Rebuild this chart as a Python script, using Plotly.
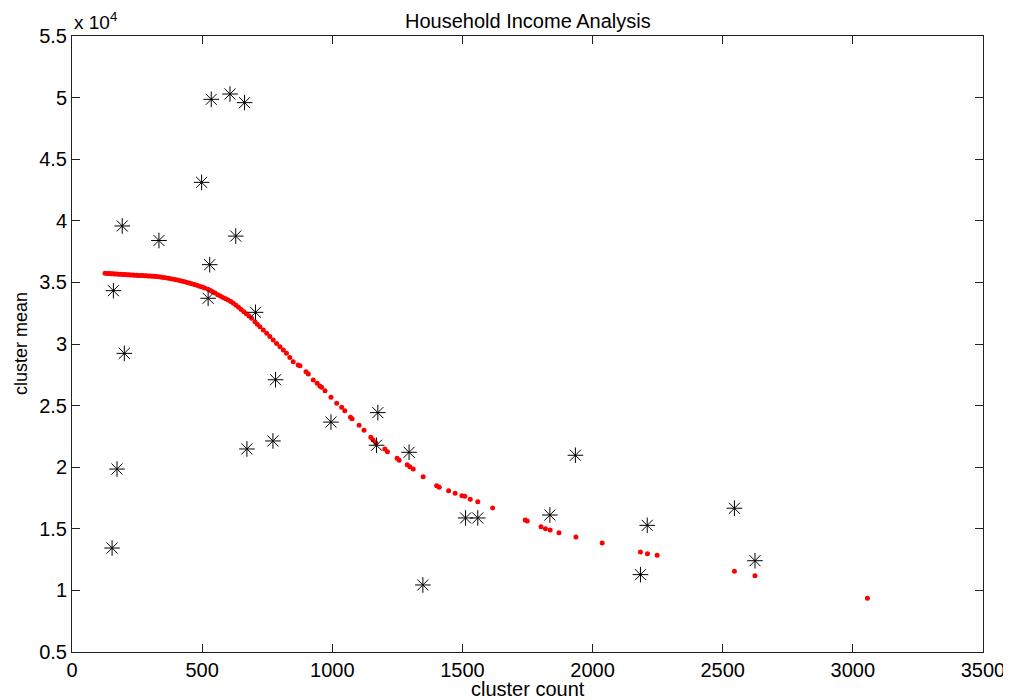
import plotly.graph_objects as go

# Black asterisk points: cluster count vs cluster mean
star_count = [535, 607, 663, 498, 193, 334, 629, 529, 159, 523, 705, 201, 782,
              672, 772, 173, 154, 995, 1175, 1170, 1295, 1512, 1559, 1348,
              1836, 1934, 2184, 2210, 2545, 2624]
star_mean = [49860, 50290, 49590, 43120, 39580, 38400, 38760, 36440, 34330,
             33710, 32570, 29240, 27100, 21480, 22130, 19850, 13440, 23660,
             24430, 21780, 21210, 15880, 15880, 10440, 16120, 20970, 11280,
             15280, 16670, 12410]

# Red fitted points
fit_count = [127, 135, 143, 150, 158, 165, 173, 180, 188, 195, 203, 210, 218,
             225, 233, 240, 248, 255, 263, 270, 278, 285, 293, 300, 308, 315,
             323, 331, 340, 350, 360, 370, 380, 390, 400, 410, 420, 430, 440,
             450, 460, 470, 480, 490, 500, 510, 523, 532, 540, 550, 560, 570,
             580, 590, 600, 610, 620, 630, 640, 650, 660, 670, 680, 690, 703,
             712, 722, 735, 748, 760, 773, 786, 799, 812, 824, 837, 850, 869,
             876, 899, 908, 927, 942, 952, 959, 972, 995, 1017, 1036, 1048,
             1070, 1076, 1103, 1122, 1148, 1157, 1167, 1202, 1212, 1249, 1257,
             1288, 1298, 1311, 1349, 1401, 1411, 1447, 1472, 1498, 1509, 1530,
             1559, 1616, 1741, 1749, 1802, 1819, 1837, 1871, 1936, 2037, 2184,
             2211, 2248, 2545, 2624, 3056]
fit_mean = [35740, 35730, 35720, 35710, 35700, 35690, 35680, 35670, 35660,
            35650, 35640, 35630, 35620, 35610, 35600, 35590, 35580, 35570,
            35560, 35550, 35540, 35530, 35520, 35510, 35500, 35490, 35475,
            35460, 35430, 35400, 35370, 35330, 35300, 35260, 35220, 35170,
            35120, 35070, 35020, 34960, 34900, 34830, 34760, 34690, 34620,
            34550, 34440, 34340, 34250, 34130, 34000, 33890, 33780, 33680,
            33570, 33440, 33300, 33140, 32980, 32800, 32620, 32450, 32280,
            32100, 31810, 31610, 31400, 31130, 30870, 30600, 30320, 30050,
            29780, 29510, 29240, 28900, 28560, 28300, 28240, 27750, 27560,
            27080, 26810, 26590, 26490, 26210, 25670, 25190, 24860, 24590,
            24050, 23940, 23400, 23000, 22430, 22210, 21990, 21480, 21260,
            20720, 20560, 20200, 20040, 19850, 19230, 18500, 18370, 18090,
            17880, 17690, 17640, 17400, 17200, 16690, 15710, 15630, 15170,
            15010, 14900, 14680, 14330, 13850, 13120, 12980, 12850, 11550,
            11190, 9360]

x_ticks = [0, 500, 1000, 1500, 2000, 2500, 3000, 3500]
y_ticks = [5000, 10000, 15000, 20000, 25000, 30000, 35000, 40000, 45000,
           50000, 55000]
y_tick_labels = ["0.5", "1", "1.5", "2", "2.5", "3", "3.5", "4", "4.5", "5",
                 "5.5"]

FONT = "Liberation Sans, Arial, sans-serif"

# The page adds an 8px body margin, so the figure is sized and placed to
# compensate (plot area at page x 72..983, y 36..652).
W, H = 1003, 692
ML, MR, MT, MB = 64, 28, 28, 48

fig = go.Figure()
fig.add_trace(go.Scatter(
    x=fit_count, y=fit_mean, mode="markers",
    marker=dict(symbol="circle", size=5, color="#ff0000", line=dict(width=0)),
    showlegend=False))
fig.add_trace(go.Scatter(
    x=star_count, y=star_mean, mode="markers",
    marker=dict(symbol="asterisk-open", size=13, color="black",
                line=dict(width=1, color="black")),
    showlegend=False))

axis_common = dict(
    showgrid=False, zeroline=False, showline=True, linecolor="#222222",
    linewidth=1, mirror="ticks", ticks="inside", ticklen=8,
    tickcolor="#222222", automargin=False,
    tickfont=dict(family=FONT, size=20, color="black"),
)

fig.update_layout(
    width=W, height=H,
    margin=dict(l=ML, r=MR, t=MT, b=MB, autoexpand=False),
    paper_bgcolor="white", plot_bgcolor="white",
    xaxis=dict(range=[0, 3500], tickvals=x_ticks, **axis_common),
    yaxis=dict(range=[5000, 55000], tickvals=y_ticks, ticktext=y_tick_labels,
               **axis_common),
    annotations=[
        dict(text="Household Income Analysis", xref="paper", yref="paper",
             x=0.5, y=1, xanchor="center", yanchor="middle",
             yshift=36 - 21, showarrow=False,
             font=dict(family=FONT, size=20, color="black")),
        dict(text="x 10<sup>4</sup>", xref="paper", yref="paper",
             x=0, y=1, xanchor="left", yanchor="bottom", yshift=1,
             showarrow=False, font=dict(family=FONT, size=19, color="black")),
        dict(text="cluster count", xref="paper", yref="paper",
             x=0.5, y=0, xanchor="center", yanchor="middle", yshift=-37,
             showarrow=False, font=dict(family=FONT, size=20, color="black")),
        dict(text="cluster mean", xref="paper", yref="paper", textangle=-90,
             x=0, y=0.5, xanchor="center", yanchor="middle",
             xshift=-(72 - 21), showarrow=False,
             font=dict(family=FONT, size=18, color="black")),
    ],
)

fig.write_html("out.html")
